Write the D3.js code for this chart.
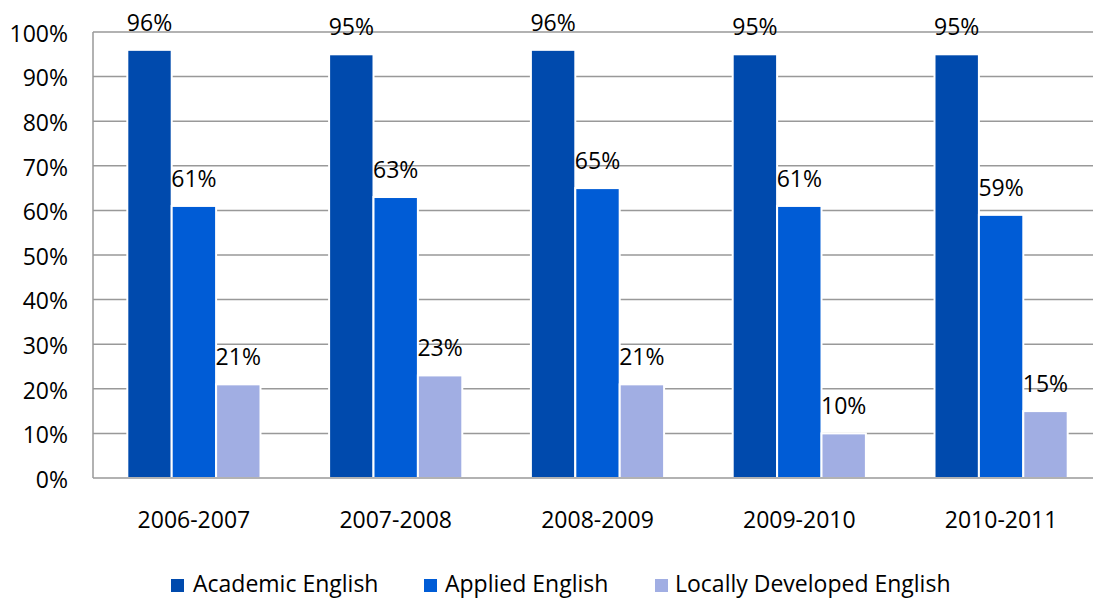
<!DOCTYPE html>
<html><head><meta charset="utf-8">
<script src="https://cdn.jsdelivr.net/npm/d3@7"></script>
<style>body{margin:0;background:#fff}svg{display:block}text{font-family:"Open Sans",sans-serif;fill:#000}</style>
</head><body><svg id="c" width="1093" height="599"></svg>
<script>
const categories = ["2006-2007","2007-2008","2008-2009","2009-2010","2010-2011"];
const seriesNames = ["Academic English","Applied English","Locally Developed English"];
const academic = [96,95,96,95,95];
const applied = [61,63,65,61,59];
const locallyDeveloped = [21,23,21,10,15];
const yTicks = [0,10,20,30,40,50,60,70,80,90,100];
const colors = ["#004AAD","#005CD6","#A1AEE3"];

const series = [academic, applied, locallyDeveloped];
const FS = 23;
const svg = d3.select("#c");
const mLeft = 93, mRight = 1102, mTop = 32, mBottom = 478, gridRight = 1093;
const x0 = d3.scaleBand().domain(categories).range([mLeft, mRight]).paddingInner(0.34).paddingOuter(0.17);
const x1 = d3.scaleBand().domain(seriesNames).range([0, x0.bandwidth()]);
const y = d3.scaleLinear().domain([0,100]).range([mBottom, mTop]);

svg.append("g").selectAll("line").data(yTicks.filter(d=>d>0)).join("line")
  .attr("x1", mLeft).attr("x2", gridRight).attr("y1", d=>y(d)).attr("y2", d=>y(d))
  .attr("stroke", "#999").attr("stroke-width", 1.5);

const yAxis = d3.axisLeft(y).tickValues(yTicks).tickFormat(d=>d+"%").tickSize(0).tickPadding(25);
const ya = svg.append("g").attr("transform", `translate(${mLeft},0)`).call(yAxis);
ya.select(".domain").remove();
ya.selectAll("text").attr("font-size", FS).attr("font-family", "Open Sans").attr("fill","#000").attr("dy","0.4em");

const groups = svg.append("g").selectAll("g").data(categories).join("g")
  .attr("transform", c=>`translate(${x0(c)},0)`);
groups.selectAll("rect").data((c,i)=>series.map((s,j)=>({name:seriesNames[j], v:s[i], j})))
  .join("rect")
  .attr("x", d=>x1(d.name)).attr("width", x1.bandwidth())
  .attr("y", d=>y(d.v)).attr("height", d=>y(0)-y(d.v))
  .attr("fill", d=>colors[d.j]).attr("stroke","#fff").attr("stroke-width",2);
groups.selectAll("text").data((c,i)=>series.map((s,j)=>({name:seriesNames[j], v:s[i], j})))
  .join("text")
  .attr("x", d=>x1(d.name)+x1.bandwidth()/2).attr("y", d=>y(d.v)-19)
  .attr("text-anchor","middle").attr("font-size",FS).text(d=>d.v+"%");

svg.append("line").attr("x1",mLeft).attr("x2",mLeft).attr("y1",mTop).attr("y2",mBottom).attr("stroke","#999").attr("stroke-width",1.5);
svg.append("line").attr("x1",mLeft).attr("x2",gridRight).attr("y1",mBottom).attr("y2",mBottom).attr("stroke","#999").attr("stroke-width",1.5);

const xa = svg.append("g").attr("transform",`translate(0,${mBottom})`).call(d3.axisBottom(x0).tickSize(0));
xa.select(".domain").remove();
xa.selectAll("text").attr("font-size",FS).attr("font-family","Open Sans").attr("fill","#000").attr("y",50).attr("dy",0);

const legendSq = [171, 424, 655];
const legendTx = [193, 445, 675];
const lg = svg.append("g").selectAll("g").data(seriesNames).join("g");
lg.append("rect").attr("x",(d,i)=>legendSq[i]).attr("y",579).attr("width",13).attr("height",13).attr("fill",(d,i)=>colors[i]);
lg.append("text").attr("x",(d,i)=>legendTx[i]).attr("y",592).attr("font-size",FS).text(d=>d);
</script></body></html>
